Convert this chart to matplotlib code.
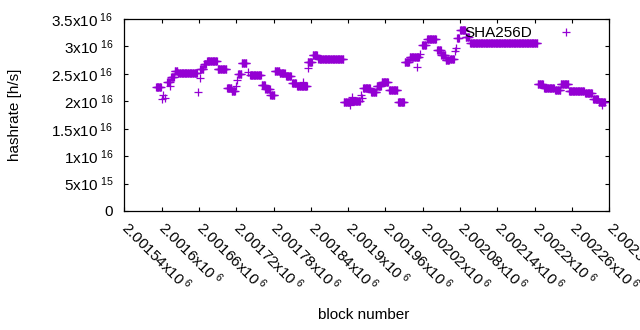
import numpy as np
import matplotlib
matplotlib.use("Agg")
import matplotlib.pyplot as plt
from matplotlib.ticker import FixedLocator, FuncFormatter
from matplotlib.transforms import ScaledTranslation

plt.rcParams['font.family'] = ['Liberation Sans', 'DejaVu Sans']
plt.rcParams['mathtext.fontset'] = 'custom'
plt.rcParams['mathtext.rm'] = 'Liberation Sans'
plt.rcParams['mathtext.it'] = 'Liberation Sans:italic'
plt.rcParams['mathtext.bf'] = 'Liberation Sans:bold'

# ---- data: runs of blocks with (roughly) constant hashrate, in 1e16 h/s ----
run_start = [2001591, 2001609, 2001615, 2001621, 2001626, 2001662, 2001668, 2001673,
             2001690, 2001705, 2001713, 2001723, 2001729, 2001742, 2001761, 2001767,
             2001775, 2001782, 2001790, 2001800, 2001810, 2001818, 2001835, 2001843,
             2001852, 2001893, 2001903, 2001924, 2001937, 2001946, 2001954, 2001966,
             2001980, 2001991, 2001999, 2002019, 2002027, 2002043, 2002050, 2002057,
             2002064, 2002075, 2002080, 2002089, 2002096, 2002205, 2002215, 2002233,
             2002242, 2002255, 2002281, 2002294, 2002303]
run_end = [2001599, 2001613, 2001620, 2001625, 2001657, 2001667, 2001671, 2001689,
           2001704, 2001712, 2001718, 2001728, 2001736, 2001760, 2001766, 2001774,
           2001781, 2001789, 2001798, 2001808, 2001816, 2001834, 2001842, 2001850,
           2001892, 2001902, 2001919, 2001935, 2001945, 2001953, 2001964, 2001979,
           2001990, 2001998, 2002014, 2002025, 2002041, 2002049, 2002056, 2002062,
           2002070, 2002078, 2002088, 2002094, 2002204, 2002213, 2002231, 2002241,
           2002254, 2002279, 2002292, 2002302, 2002313]
run_value = [2.255, 2.35, 2.45, 2.555, 2.51, 2.58, 2.68, 2.73,
             2.59, 2.24, 2.19, 2.49, 2.70, 2.48, 2.30, 2.23,
             2.11, 2.55, 2.51, 2.46, 2.33, 2.27, 2.72, 2.84,
             2.765, 1.99, 2.00, 2.24, 2.17, 2.28, 2.35, 2.20,
             1.99, 2.72, 2.80, 3.03, 3.13, 2.93, 2.84, 2.75,
             2.77, 3.15, 3.30, 3.18, 3.07, 2.31, 2.25, 2.20,
             2.31, 2.19, 2.15, 2.04, 1.98]

# isolated blocks
single_block = [2001601, 2001603, 2001605, 2001614, 2001659, 2001661, 2001720, 2001721,
                2001739, 2001828, 2001836, 2001903, 2001906, 2001920, 2001922, 2002010,
                2002016, 2002072, 2002073, 2002308]
single_value = [2.04, 2.11, 2.06, 2.27, 2.175, 2.42, 2.28, 2.39,
                2.54, 2.36, 2.60, 1.93, 2.08, 2.11, 2.06, 2.63,
                2.87, 2.92, 2.97, 1.93]

xtick_values = [2001540 + 60 * i for i in range(14)]
ytick_values = [0, 0.5e16, 1e16, 1.5e16, 2e16, 2.5e16, 3e16, 3.5e16]
ytick_labels = ["0", "5x10$^{\\ 15}$", "1x10$^{\\ 16}$", "1.5x10$^{\\ 16}$", "2x10$^{\\ 16}$",
                "2.5x10$^{\\ 16}$", "3x10$^{\\ 16}$", "3.5x10$^{\\ 16}$"]

blocks = np.concatenate([np.arange(s, e + 1) for s, e in zip(run_start, run_end)] + [np.array(single_block)])
values = np.concatenate([np.full(e - s + 1, v) for s, e, v in zip(run_start, run_end, run_value)] +
                        [np.array(single_value)]) * 1e16

FS = 11
color = '#9400D3'
fig = plt.figure(figsize=(6.4, 3.3), dpi=100)
ax = fig.add_axes([124.3 / 640, 1 - 211 / 330, (609.3 - 124.3) / 640, (211 - 19) / 330])
ax.plot(blocks, values, linestyle='none', marker='+', markersize=5.2, markeredgewidth=0.9,
        color=color, label='SHA256D')

ax.set_xlim(2001540, 2002320)
ax.set_ylim(0, 3.5e16)

def xfmt(v, pos):
    m = "%g" % (v / 1e6)
    return m + "x10$^{\\ 6}$"

ax.xaxis.set_major_locator(FixedLocator(xtick_values))
ax.xaxis.set_major_formatter(FuncFormatter(xfmt))
ax.set_yticks(ytick_values)
ax.set_yticklabels(ytick_labels)

ax.tick_params(direction='in', length=3, width=0.8, top=True, right=True, labelsize=FS, colors='black')
ax.tick_params(axis='x', pad=8)
ax.tick_params(axis='y', pad=8)
offset = ScaledTranslation(7 / 100, 4 / 100, fig.dpi_scale_trans)
for lab in ax.get_xticklabels():
    lab.set_rotation(-45)
    lab.set_ha('left')
    lab.set_va('top')
    lab.set_rotation_mode('anchor')
    lab.set_transform(lab.get_transform() + offset)
for sp in ax.spines.values():
    sp.set_linewidth(0.9)

ax.set_xlabel('block number', fontsize=FS, labelpad=2)
fig.text(15 / 640, 1 - 115 / 330, 'hashrate [h/s]', rotation=90, ha='center', va='center', fontsize=FS)
ax.xaxis.set_label_coords((364 - 124.3) / 485, -(315 - 211) / 192)
ax.xaxis.label.set_va('center')

leg = ax.legend(loc='upper right', frameon=False, markerfirst=False, handlelength=2,
                handletextpad=1.2, borderpad=0, borderaxespad=0,
                bbox_to_anchor=(0.9414, 0.962), fontsize=FS)

fig.savefig('out.png', dpi=100)
